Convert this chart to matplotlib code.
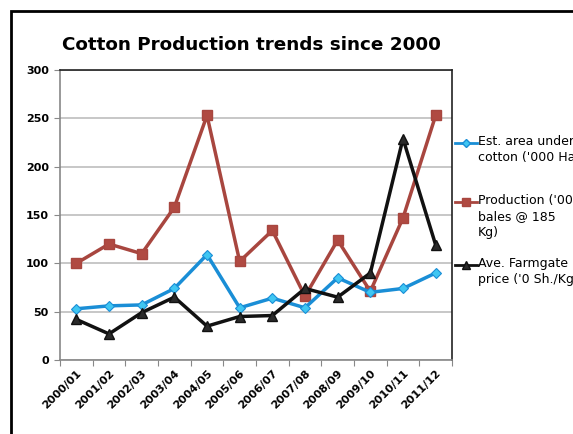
import matplotlib
matplotlib.use("Agg")
import matplotlib.pyplot as plt
from matplotlib.patches import Rectangle
from matplotlib.lines import Line2D

# chart data
seasons = ["2000/01", "2001/02", "2002/03", "2003/04", "2004/05", "2005/06",
           "2006/07", "2007/08", "2008/09", "2009/10", "2010/11", "2011/12"]
area = [53, 56, 57, 74, 109, 54, 64, 54, 85, 70, 74, 90]
production = [100, 120, 110, 158, 253, 102, 134, 66, 124, 71, 147, 253]
price = [42, 27, 49, 65, 35, 45, 46, 74, 65, 90, 229, 119]

labels = ["Est. area under\ncotton ('000 Ha)",
          "Production ('000\nbales @ 185\nKg)",
          "Ave. Farmgate\nprice ('0 Sh./Kg)"]

W, H = 573, 434
fig = plt.figure(figsize=(W / 100, H / 100), dpi=100)
ax = fig.add_axes([60 / W, 1 - 360 / H, 392 / W, 290 / H])

x = range(len(seasons))
l1, = ax.plot(x, area, color="#1a8ed6", lw=2.5, marker="D", ms=5.5,
              mfc="#3fc6f2", mec="#1a8ed6", mew=0.8, zorder=4)
l2, = ax.plot(x, production, color="#a8463f", lw=2.5, marker="s", ms=7,
              mfc="#b04a42", mec="#a8463f", zorder=3)
l3, = ax.plot(x, price, color="#111111", lw=2.5, marker="^", ms=7,
              mfc="#2a2a2a", mec="#111111", zorder=5)

ax.set_xlim(-0.5, len(seasons) - 0.5)
ax.set_ylim(0, 300)
ax.set_yticks(range(0, 301, 50))
ax.set_yticklabels([str(v) for v in range(0, 301, 50)], fontsize=8, fontweight="bold")
ax.yaxis.grid(True, color="#b8b8b8", lw=1.1)
ax.set_axisbelow(True)

# category ticks sit between the seasons, labels on the seasons
ax.set_xticks([i - 0.5 for i in range(len(seasons) + 1)])
ax.set_xticklabels([])
ax.set_xticks(list(x), minor=True)
ax.set_xticklabels(seasons, minor=True, rotation=45, ha="right", va="top",
                   rotation_mode="anchor", fontsize=8, fontweight="bold")
ax.tick_params(axis="x", which="major", length=4, color="#888888", direction="out")
ax.tick_params(axis="x", which="minor", length=0, pad=6)
ax.tick_params(axis="y", length=4, color="#888888", pad=4)

ax.spines["left"].set_color("#888888")
ax.spines["bottom"].set_color("#888888")
ax.spines["top"].set_color("#222222")
ax.spines["right"].set_color("#222222")
for s in ax.spines.values():
    s.set_linewidth(1.2)

fig.text(62 / W, 1 - 45 / H, "Cotton Production trends since 2000",
         fontsize=13.2, fontweight="bold", ha="left", va="center")

# legend drawn by hand so the key sits on the first text line
tops = [143, 202, 265]
for ln, lab, yt in zip([l1, l2, l3], labels, tops):
    yf = 1 - yt / H
    fig.add_artist(Line2D([455 / W, 477 / W], [yf, yf], color=ln.get_color(), lw=2))
    fig.add_artist(Line2D([466 / W], [yf], color=ln.get_color(), marker=ln.get_marker(),
                          ms=ln.get_markersize() * 0.8, mfc=ln.get_markerfacecolor(),
                          mec=ln.get_markeredgecolor(), lw=0))
    fig.text(478 / W, 1 - (yt - 8) / H, lab, fontsize=9, ha="left", va="top",
             linespacing=1.3)

# outer chart border (runs off the right and bottom edges)
fig.add_artist(Rectangle((11 / W, -0.1), 1.2, 1 - 11 / H + 0.1, transform=fig.transFigure,
                         fill=False, ec="black", lw=2))

fig.savefig("out.png", dpi=100)
